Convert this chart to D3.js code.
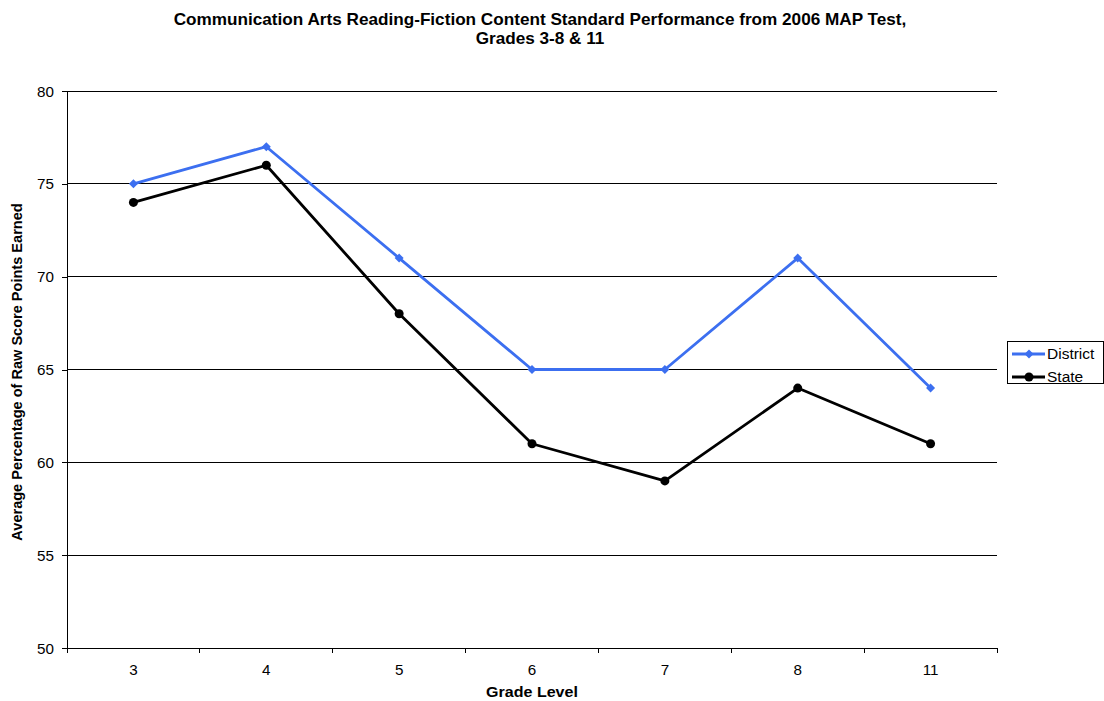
<!DOCTYPE html>
<html>
<head>
<meta charset="utf-8">
<script src="https://cdn.jsdelivr.net/npm/d3@7"></script>
<style>
  body { margin: 0; background: #fff; }
  svg { display: block; font-family: "Liberation Sans", Arial, sans-serif; }
</style>
</head>
<body>
<svg id="chart" width="1104" height="701"></svg>
<script>
const grades = ["3", "4", "5", "6", "7", "8", "11"];
const districtValues = [75, 77, 71, 65, 65, 71, 64];
const stateValues = [74, 76, 68, 61, 59, 64, 61];
const yTicks = [50, 55, 60, 65, 70, 75, 80];
const seriesNames = ["District", "State"];
const seriesColors = ["#3c6ff0", "#000000"];

const svg = d3.select("#chart");
const margin = { left: 67, right: 107, top: 91, bottom: 53 };
const W = 1104, H = 701;
const plotW = W - margin.left - margin.right;
const plotH = H - margin.top - margin.bottom;

// text drawn with a slight horizontal stretch
function label(parent, x, y, str, opts) {
  const o = Object.assign({ size: 13, sx: 1, anchor: "start", weight: "normal", rotate: 0 }, opts);
  return parent.append("text")
    .attr("transform", `translate(${x},${y}) rotate(${o.rotate}) scale(${o.sx},1)`)
    .attr("text-anchor", o.anchor)
    .attr("font-size", o.size)
    .attr("font-weight", o.weight)
    .attr("fill", "#000")
    .text(str);
}

const x = d3.scaleBand().domain(grades).range([0, plotW]).paddingInner(0).paddingOuter(0);
const y = d3.scaleLinear().domain([50, 80]).range([plotH, 0]);

const g = svg.append("g").attr("transform", `translate(${margin.left},${margin.top})`);

// horizontal gridlines
g.append("g").selectAll("line").data(yTicks.filter(v => v !== 50)).join("line")
  .attr("x1", 0).attr("x2", plotW)
  .attr("y1", d => y(d)).attr("y2", d => y(d))
  .attr("stroke", "#000").attr("stroke-width", 1).attr("shape-rendering", "crispEdges");

// y axis
const yAxis = g.append("g").call(d3.axisLeft(y).tickValues(yTicks).tickSize(5).tickFormat(""));
yAxis.selectAll("line, path").attr("stroke", "#000").attr("shape-rendering", "crispEdges");
yAxis.select(".domain").attr("d", `M0,${plotH}V0`);
yTicks.forEach(v => label(g, -13, y(v) + 5.5, d3.format("d")(v), { size: 14.5, sx: 1.05, anchor: "end" }));

// x axis with ticks at category boundaries
const xg = g.append("g").attr("transform", `translate(0,${plotH})`);
xg.append("line").attr("x1", 0).attr("x2", plotW).attr("y1", 0).attr("y2", 0)
  .attr("stroke", "#000").attr("shape-rendering", "crispEdges");
const boundaries = grades.map(d => x(d)).concat([plotW]);
xg.selectAll("line.tick").data(boundaries).join("line").attr("class", "tick")
  .attr("x1", d => d).attr("x2", d => d).attr("y1", 0).attr("y2", 5)
  .attr("stroke", "#000").attr("shape-rendering", "crispEdges");
grades.forEach(d => label(xg, x(d) + x.bandwidth() / 2, 26.5, d, { size: 14.5, sx: 1.05, anchor: "middle" }));

// series lines
const cx = d => x(d) + x.bandwidth() / 2;
const line = d3.line().x(d => cx(d.grade)).y(d => y(d.value));
const series = [districtValues, stateValues].map((vals, i) => ({
  name: seriesNames[i], color: seriesColors[i],
  points: vals.map((v, j) => ({ grade: grades[j], value: v }))
}));
const diamond = "M0,-4.5L4.5,0L0,4.5L-4.5,0Z";

// draw State first so District sits on top
[series[1], series[0]].forEach(s => {
  g.append("path").datum(s.points).attr("d", line)
    .attr("fill", "none").attr("stroke", s.color).attr("stroke-width", 2.8)
    .attr("stroke-linejoin", "round");
  if (s.name === "District") {
    g.selectAll(null).data(s.points).join("path")
      .attr("transform", d => `translate(${cx(d.grade)},${y(d.value)})`)
      .attr("d", diamond).attr("fill", s.color);
  } else {
    g.selectAll(null).data(s.points).join("circle")
      .attr("cx", d => cx(d.grade)).attr("cy", d => y(d.value)).attr("r", 4.5)
      .attr("fill", s.color);
  }
});

// title
label(svg, 540, 25, "Communication Arts Reading-Fiction Content Standard Performance from 2006 MAP Test,",
  { size: 16.5, sx: 1.04, anchor: "middle", weight: "bold" });
label(svg, 540, 44, "Grades 3-8 & 11", { size: 16.5, sx: 1.04, anchor: "middle", weight: "bold" });

// axis titles
label(svg, 532, 697, "Grade Level", { size: 15, sx: 1.07, anchor: "middle", weight: "bold" });
label(svg, 22, 372, "Average Percentage of Raw Score Points Earned",
  { size: 14, sx: 1.04, anchor: "middle", weight: "bold", rotate: -90 });

// legend
const lg = svg.append("g").attr("transform", "translate(1007,341)");
lg.append("rect").attr("x", 0.5).attr("y", 0.5).attr("width", 96).attr("height", 42)
  .attr("fill", "#fff").attr("stroke", "#000");
series.forEach((s, i) => {
  const yy = 13 + i * 23;
  lg.append("line").attr("x1", 5).attr("x2", 38).attr("y1", yy).attr("y2", yy)
    .attr("stroke", s.color).attr("stroke-width", 2.8);
  if (s.name === "District") {
    lg.append("path").attr("transform", `translate(22,${yy})`).attr("d", diamond).attr("fill", s.color);
  } else {
    lg.append("circle").attr("cx", 22).attr("cy", yy).attr("r", 4.5).attr("fill", s.color);
  }
  label(lg, 40, yy + 5, s.name, { size: 14.5, sx: 1.07 });
});
</script>
</body>
</html>
